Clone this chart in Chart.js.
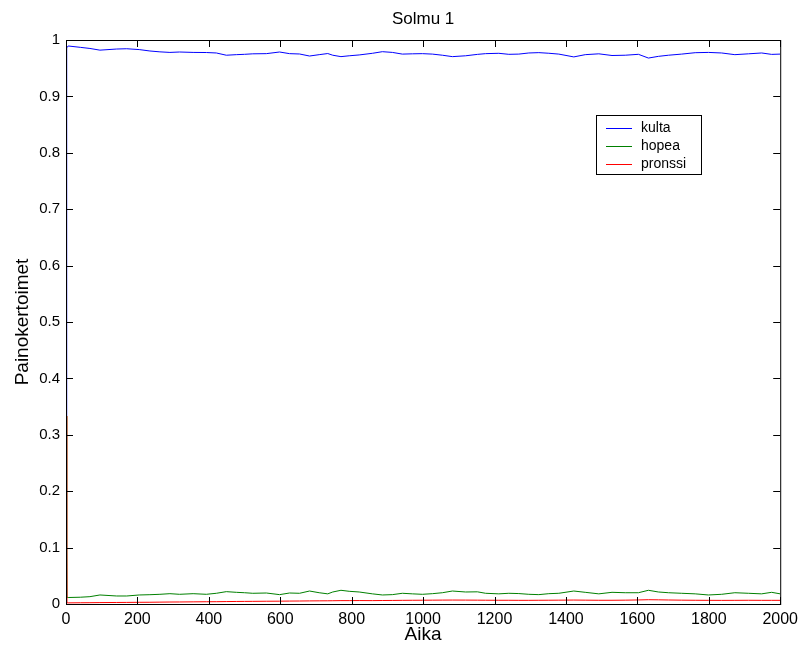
<!DOCTYPE html>
<html>
<head>
<meta charset="utf-8">
<script src="https://cdn.jsdelivr.net/npm/chart.js@4/dist/chart.umd.min.js"></script>
<style>
  html, body { margin: 0; padding: 0; background: #fff; }
  #wrap { width: 804px; height: 649px; }
</style>
</head>
<body>
<div id="wrap"><canvas id="c" width="804" height="649"></canvas></div>
<script>
// time steps (Aika)
const aika = [0, 2, 6, 40, 67, 95, 142, 170, 205, 235, 263, 291, 318, 356, 393, 421, 449, 477, 500, 523,
  561, 598, 626, 654, 682, 709, 733, 747, 770, 793, 821, 858, 886, 914, 942, 970, 998, 1026, 1054, 1082,
  1119, 1152, 1175, 1212, 1240, 1268, 1296, 1324, 1352, 1380, 1422, 1454, 1492, 1529, 1566, 1603, 1631,
  1659, 1687, 1724, 1762, 1799, 1836, 1873, 1911, 1948, 1976, 2000];

const kulta = [0.3333, 0.986, 0.9894, 0.987, 0.985, 0.982, 0.984, 0.9845, 0.983, 0.9805, 0.979, 0.978,
  0.9787, 0.978, 0.9778, 0.977, 0.973, 0.974, 0.9746, 0.9755, 0.9758, 0.9787, 0.9758, 0.9752, 0.9716,
  0.974, 0.976, 0.973, 0.9705, 0.972, 0.9735, 0.9764, 0.9793, 0.978, 0.975, 0.9755, 0.9758, 0.975, 0.973,
  0.9705, 0.972, 0.9745, 0.9758, 0.9764, 0.9746, 0.975, 0.977, 0.9776, 0.9765, 0.975, 0.970, 0.974,
  0.9755, 0.9725, 0.973, 0.9746, 0.968, 0.971, 0.973, 0.975, 0.9775, 0.978, 0.977, 0.974, 0.9755, 0.977,
  0.9745, 0.975];

const hopea = [0.3333, 0.012, 0.0115, 0.012, 0.013, 0.016, 0.0142, 0.0142, 0.016, 0.0165, 0.0172, 0.0183,
  0.0172, 0.0183, 0.0172, 0.019, 0.0219, 0.0207, 0.020, 0.019, 0.0195, 0.0166, 0.0195, 0.019, 0.023,
  0.020, 0.018, 0.0213, 0.0243, 0.0225, 0.0213, 0.018, 0.016, 0.0166, 0.019, 0.018, 0.0172, 0.0183, 0.020,
  0.023, 0.0213, 0.0216, 0.019, 0.018, 0.019, 0.0185, 0.0172, 0.0166, 0.0183, 0.019, 0.023, 0.0207,
  0.018, 0.0207, 0.020, 0.020, 0.0243, 0.0213, 0.020, 0.019, 0.018, 0.016, 0.0172, 0.020, 0.019, 0.018,
  0.0207, 0.018];

const pronssi = [0.3333, 0.002, 0.002, 0.0022, 0.0023, 0.0025, 0.0027, 0.0028, 0.003, 0.0031, 0.0033,
  0.0035, 0.0036, 0.0038, 0.004, 0.0041, 0.0043, 0.0045, 0.0046, 0.0047, 0.0049, 0.005, 0.0052, 0.0053,
  0.0055, 0.0056, 0.0057, 0.0058, 0.006, 0.006, 0.0061, 0.006, 0.0062, 0.0063, 0.0065, 0.0066, 0.0067,
  0.0068, 0.0069, 0.007, 0.0069, 0.0068, 0.0067, 0.0066, 0.0066, 0.0065, 0.0065, 0.0066, 0.0067, 0.0068,
  0.007, 0.0068, 0.0066, 0.0066, 0.0068, 0.0072, 0.0076, 0.0074, 0.0071, 0.0068, 0.0066, 0.0065, 0.0064,
  0.0065, 0.0066, 0.0065, 0.0065, 0.0065];

const xTicks = [0, 200, 400, 600, 800, 1000, 1200, 1400, 1600, 1800, 2000];
const yTicks = [0, 0.1, 0.2, 0.3, 0.4, 0.5, 0.6, 0.7, 0.8, 0.9, 1];

const FONT = "'Liberation Sans', Arial, Helvetica, sans-serif";

function pts(ys) {
  return aika.map((t, i) => ({ x: t, y: ys[i] }));
}

// matlab-ish frame: full box with ticks pointing inwards, plus legend box
const frame = {
  id: 'frame',
  afterDatasetsDraw(chart) {
    const { ctx, chartArea: a, scales } = chart;
    ctx.save();
    ctx.strokeStyle = '#000';
    ctx.lineWidth = 1;
    ctx.strokeRect(a.left + 0.5, a.top + 0.5, a.right - a.left, a.bottom - a.top);
    const tl = 7;
    ctx.beginPath();
    xTicks.forEach(v => {
      const x = Math.round(scales.x.getPixelForValue(v)) + 0.5;
      ctx.moveTo(x, a.bottom); ctx.lineTo(x, a.bottom - tl);
      ctx.moveTo(x, a.top); ctx.lineTo(x, a.top + tl);
    });
    yTicks.forEach(v => {
      const y = Math.round(scales.y.getPixelForValue(v)) + 0.5;
      ctx.moveTo(a.left, y); ctx.lineTo(a.left + tl, y);
      ctx.moveTo(a.right, y); ctx.lineTo(a.right - tl, y);
    });
    ctx.stroke();

    // legend
    const lx = 596.5, ly = 115.5, lw = 105, lh = 59;
    ctx.fillStyle = '#fff';
    ctx.fillRect(lx, ly, lw, lh);
    ctx.strokeRect(lx, ly, lw, lh);
    ctx.font = '14px ' + FONT;
    ctx.textBaseline = 'middle';
    chart.data.datasets.forEach((ds, i) => {
      const y = Math.round(ly + 12 + i * 18) + 0.5;
      ctx.strokeStyle = ds.borderColor;
      ctx.beginPath();
      ctx.moveTo(606, y); ctx.lineTo(632, y);
      ctx.stroke();
      ctx.fillStyle = '#000';
      ctx.fillText(ds.label, 641, y);
    });
    ctx.restore();
  }
};

new Chart(document.getElementById('c'), {
  type: 'line',
  data: {
    datasets: [
      { label: 'kulta', data: pts(kulta), borderColor: '#0000ff', order: 2 },
      { label: 'hopea', data: pts(hopea), borderColor: '#008000', order: 1 },
      { label: 'pronssi', data: pts(pronssi), borderColor: '#ff0000', order: 0 }
    ]
  },
  options: {
    responsive: false,
    animation: false,
    elements: {
      line: { borderWidth: 1, tension: 0, fill: false },
      point: { radius: 0, hoverRadius: 0 }
    },
    layout: { padding: { left: 0, right: 22, top: 0, bottom: 0 } },
    plugins: {
      legend: { display: false },
      tooltip: { enabled: false },
      title: {
        display: true,
        fullSize: false, // centre over the plot area like matlab
        text: 'Solmu 1',
        color: '#000',
        font: { family: FONT, size: 17, weight: 'normal', lineHeight: 1.2 },
        padding: { top: 9, bottom: 10.6 }
      }
    },
    scales: {
      x: {
        type: 'linear',
        min: 0, max: 2000,
        grid: { display: false, drawTicks: false },
        border: { display: false },
        afterBuildTicks(scale) { scale.ticks = xTicks.map(v => ({ value: v })); },
        afterFit(scale) { scale.height = 45; },
        ticks: {
          color: '#000', padding: 6, maxRotation: 0, autoSkip: false,
          font: { family: FONT, size: 16 },
          callback: v => String(Math.round(v))
        },
        title: {
          display: true, text: 'Aika', color: '#000',
          font: { family: FONT, size: 19, lineHeight: 1.2 },
          padding: { top: 0, bottom: 3 }
        }
      },
      y: {
        min: 0, max: 1,
        grid: { display: false, drawTicks: false },
        border: { display: false },
        afterBuildTicks(scale) { scale.ticks = yTicks.map(v => ({ value: v })); },
        afterFit(scale) { scale.width = 66; },
        ticks: {
          color: '#000', padding: 6, autoSkip: false,
          font: { family: FONT, size: 15 },
          callback: v => String(Math.round(v * 10) / 10)
        },
        title: {
          display: true, text: 'Painokertoimet', color: '#000',
          font: { family: FONT, size: 19, lineHeight: 1.2 },
          padding: { top: 11, bottom: 0 }
        }
      }
    }
  },
  plugins: [frame]
});
</script>
</body>
</html>
